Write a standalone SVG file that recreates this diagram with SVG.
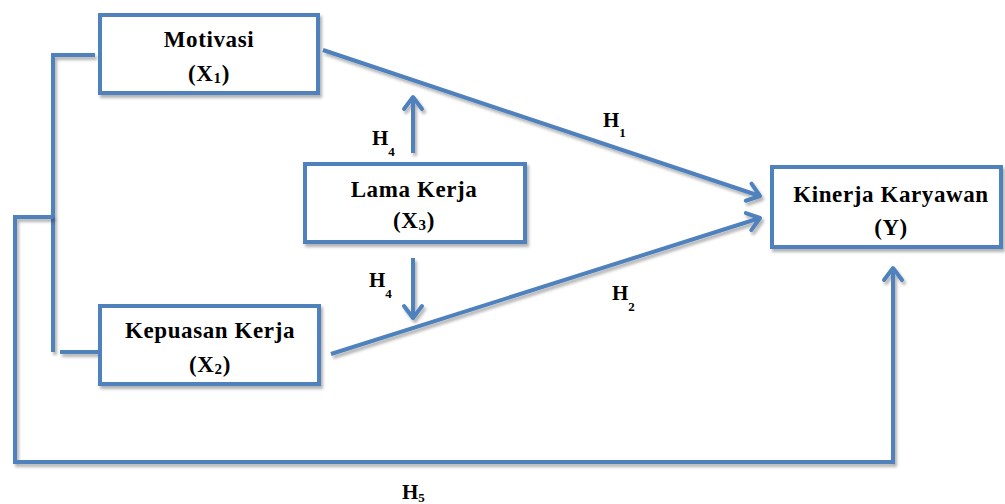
<svg xmlns="http://www.w3.org/2000/svg" width="1005" height="504" viewBox="0 0 1005 504">
<style>
.box{fill:#fff;stroke:#4F81BD;stroke-width:4;filter:url(#sh)}
.ln{fill:none;stroke:#4F81BD;stroke-width:4;stroke-linejoin:miter;filter:url(#sh)}
.t{font-family:"Liberation Serif","Times New Roman",serif;font-weight:bold;font-size:23px;fill:#000;text-anchor:middle;letter-spacing:0.6px}
.h{font-family:"Liberation Serif","Times New Roman",serif;font-weight:bold;font-size:21px;fill:#000}
.s{font-size:13px}
.sb{font-size:15px}
</style>
<defs>
<filter id="sh" filterUnits="userSpaceOnUse" x="0" y="0" width="1005" height="504">
<feDropShadow dx="2" dy="3" stdDeviation="1.5" flood-color="#000" flood-opacity="0.3"/>
</filter>
<marker id="ah" markerUnits="userSpaceOnUse" viewBox="-16 -12 20 24" markerWidth="20" markerHeight="24" refX="0" refY="0" orient="auto">
<path d="M-12,-9 L0,0 L-12,9" fill="none" stroke="#4F81BD" stroke-width="4" stroke-linecap="round" stroke-linejoin="round"/>
</marker>
</defs>
<g id="connectors">
<path class="ln" d="M95,55 H53 V352"/>
<path class="ln" d="M60,352 H100"/>
<path class="ln" d="M53,217 H15 V462 H893 V268" marker-end="url(#ah)"/>
<path class="ln" d="M323,50 L760,196" marker-end="url(#ah)"/>
<path class="ln" d="M331,354 L760,218" marker-end="url(#ah)"/>
<path class="ln" d="M413,153 V97" marker-end="url(#ah)"/>
<path class="ln" d="M413,258 V318" marker-end="url(#ah)"/>
</g>
<g id="labels">
<text class="h" x="603" y="127">H<tspan class="s" dy="10">1</tspan></text>
<text class="h" x="612" y="300">H<tspan class="s" dy="11">2</tspan></text>
<text class="h" x="372" y="145">H<tspan class="s" dy="11">4</tspan></text>
<text class="h" x="369" y="287">H<tspan class="s" dy="11">4</tspan></text>
<text class="h" x="402" y="499">H<tspan class="s" dy="3">5</tspan></text>
</g>
<g id="motivasi">
<rect class="box" x="100" y="15" width="218" height="78"/>
<text class="t" x="209" y="47">Motivasi</text>
<text class="t" x="209" y="81">(X<tspan class="sb" dy="2">1</tspan><tspan dy="-2">)</tspan></text>
</g>
<g id="lama-kerja">
<rect class="box" x="305" y="164" width="220" height="78"/>
<text class="t" x="414" y="197">Lama Kerja</text>
<text class="t" x="414" y="228">(X<tspan class="sb" dy="2">3</tspan><tspan dy="-2">)</tspan></text>
</g>
<g id="kepuasan-kerja">
<rect class="box" x="100" y="306" width="219" height="78"/>
<text class="t" x="210" y="338">Kepuasan Kerja</text>
<text class="t" x="210" y="372">(X<tspan class="sb" dy="2">2</tspan><tspan dy="-2">)</tspan></text>
</g>
<g id="kinerja-karyawan">
<rect class="box" x="772" y="167" width="229" height="80"/>
<text class="t" x="891" y="202">Kinerja Karyawan</text>
<text class="t" x="891" y="235">(Y)</text>
</g>
</svg>
